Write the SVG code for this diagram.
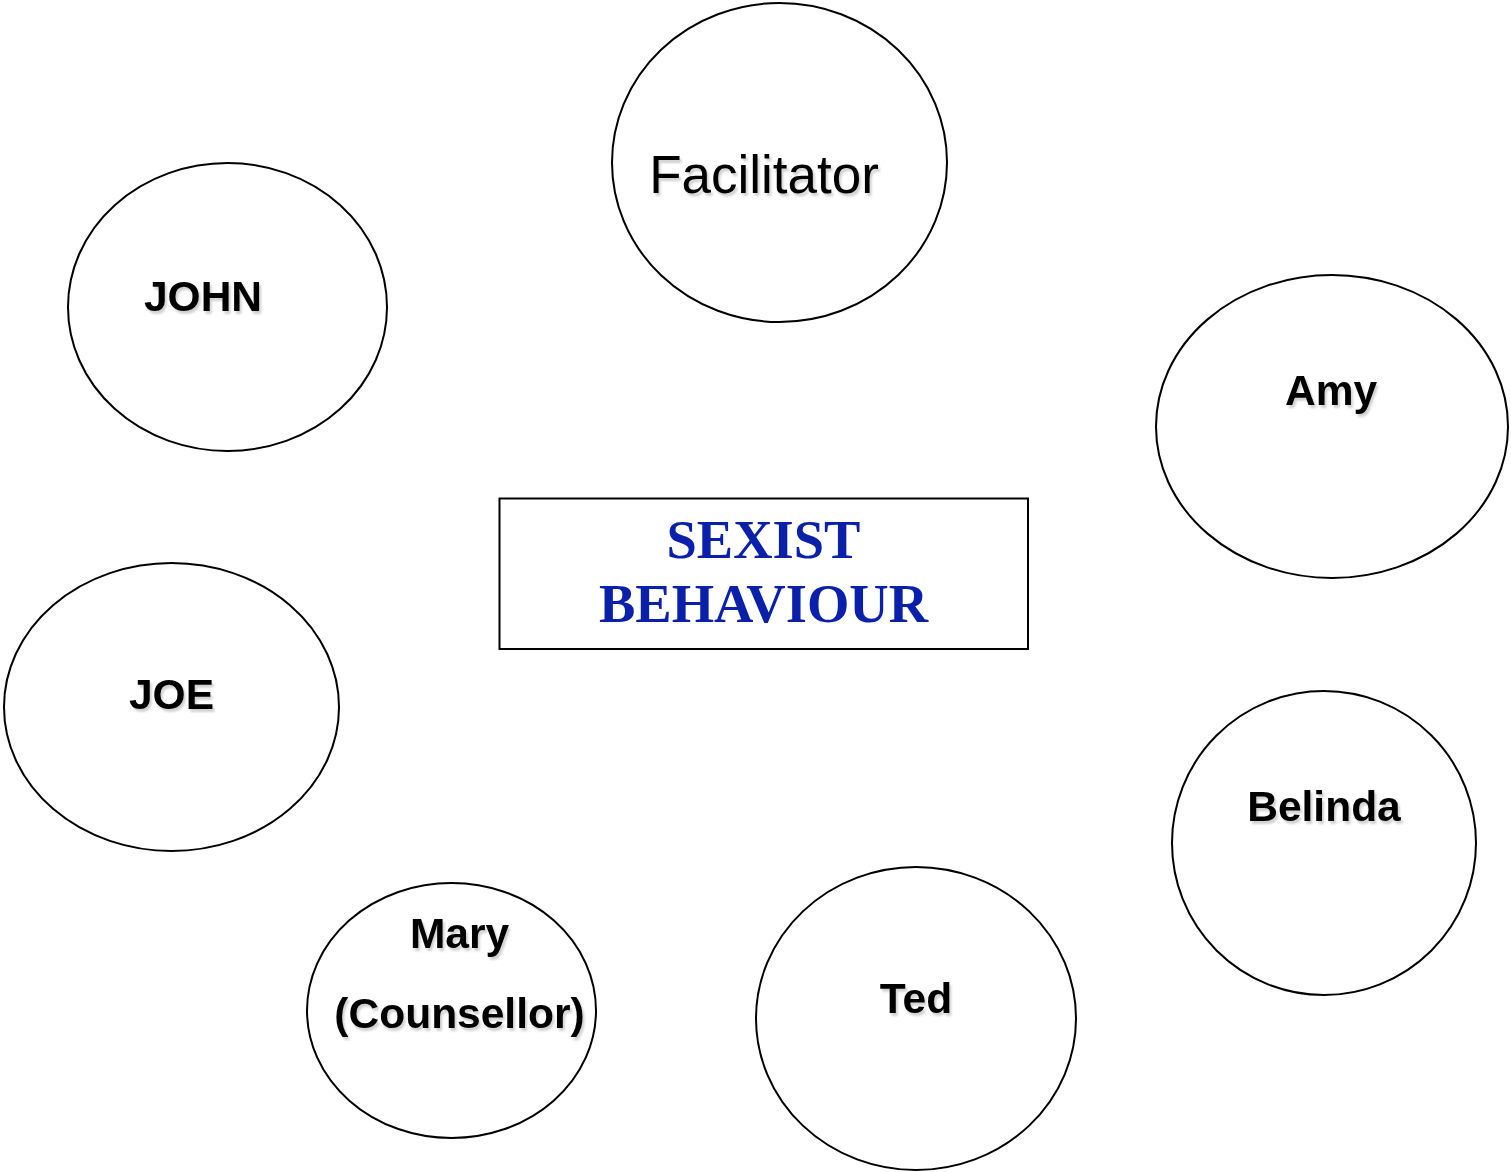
<svg xmlns="http://www.w3.org/2000/svg" width="1511" height="1172" viewBox="0 0 1511 1172">
<style>
.node ellipse, .node rect { fill: #fff; stroke: #000; stroke-width: 2; }
.lbl { font-family: "Liberation Sans", Arial, sans-serif; font-weight: bold; font-size: 42.5px; fill: #000; text-anchor: middle; filter: url(#sh); }
.reg { font-weight: normal; font-size: 53px; }
.title { font-family: "Liberation Serif", "Times New Roman", serif; font-weight: bold; font-size: 54.5px; fill: #0A1FAA; text-anchor: middle; }
</style>
<defs>
<filter id="sh" x="-10%" y="-20%" width="130%" height="150%">
<feDropShadow dx="2" dy="3" stdDeviation="1" flood-color="#000" flood-opacity="0.18"/>
</filter>
</defs>
<rect width="1511" height="1172" fill="#fff"/>
<g id="connectors"></g>
<g id="facilitator" class="node"><ellipse cx="779.5" cy="162.5" rx="167.5" ry="159.5"/><text class="lbl reg" x="764" y="193">Facilitator</text></g>
<g id="john" class="node"><ellipse cx="227.5" cy="307" rx="159.5" ry="144"/><text class="lbl" x="203" y="311">JOHN</text></g>
<g id="amy" class="node"><ellipse cx="1332" cy="426.5" rx="176" ry="151.5"/><text class="lbl" x="1331" y="405">Amy</text></g>
<g id="joe" class="node"><ellipse cx="171.5" cy="707" rx="167.5" ry="144"/><text class="lbl" x="171.5" y="709">JOE</text></g>
<g id="belinda" class="node"><ellipse cx="1324" cy="843" rx="152" ry="152"/><text class="lbl" x="1324" y="821">Belinda</text></g>
<g id="ted" class="node"><ellipse cx="916" cy="1018.5" rx="160" ry="151.5"/><text class="lbl" x="916" y="1013">Ted</text></g>
<g id="mary" class="node"><ellipse cx="451.5" cy="1010.5" rx="144.5" ry="127.5"/><text class="lbl" x="459.5" y="948">Mary</text><text class="lbl" x="459.5" y="1028">(Counsellor)</text></g>
<g id="sexist" class="node"><rect x="499.5" y="498.5" width="528.5" height="150.5"/><text class="title" x="763.5" y="558">SEXIST</text><text class="title" x="763.5" y="622">BEHAVIOUR</text></g>
</svg>
